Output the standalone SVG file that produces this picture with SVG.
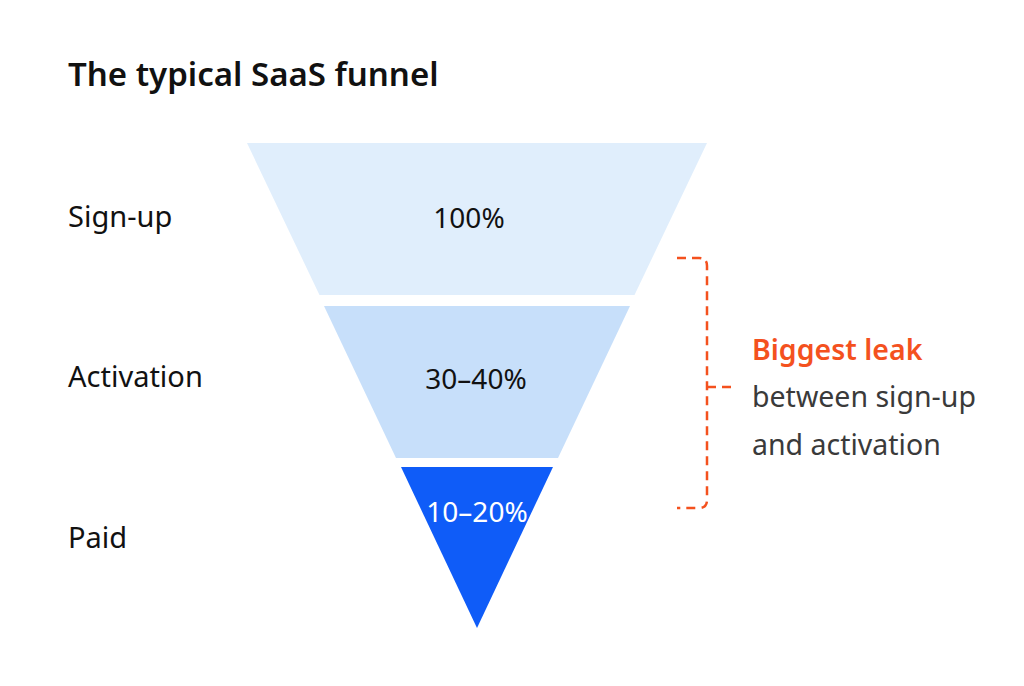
<svg xmlns="http://www.w3.org/2000/svg" width="1024" height="686" viewBox="0 0 1024 686">
<style>
.lbl{font-family:"Noto Sans","Open Sans","Liberation Sans",sans-serif;font-size:29px;fill:#111}
.pct{font-family:"Noto Sans","Open Sans","Liberation Sans",sans-serif;font-size:28px;fill:#111;text-anchor:middle}
.title{font-family:"Noto Sans","Open Sans","Liberation Sans",sans-serif;font-size:33px;font-weight:600;fill:#111}
.note{font-family:"Noto Sans","Open Sans","Liberation Sans",sans-serif;font-size:28.5px;fill:#3a3a3a}
.bracket{fill:none;stroke:#f4511e;stroke-width:2.5;stroke-dasharray:9 6}
</style>
<rect width="1024" height="686" fill="#ffffff"/>
<text class="title" x="68" y="86">The typical SaaS funnel</text>
<g id="stage-signup">
<polygon points="247,143 707,143 634.5,295 319.5,295" fill="#e0eefc"/>
<text class="lbl" x="68" y="227">Sign-up</text>
<text class="pct" x="469" y="228">100%</text>
</g>
<g id="stage-activation">
<polygon points="324,306 630,306 558,458 396,458" fill="#c7dffa"/>
<text class="lbl" x="68" y="387">Activation</text>
<text class="pct" x="476" y="389">30–40%</text>
</g>
<g id="stage-paid">
<polygon points="401,467 553,467 477,628" fill="#0f5cf8"/>
<text class="lbl" x="68" y="548">Paid</text>
<text class="pct" x="477" y="522" style="fill:#ffffff">10–20%</text>
</g>
<g id="connectors">
<path class="bracket" d="M677,258 H699 Q707,258 707,266 V500 Q707,508 699,508 H677"/>
<path class="bracket" d="M707,387 H732" stroke-dasharray="6 6"/>
</g>
<g id="annotation">
<text class="note" x="752" y="360" style="fill:#f4511e;font-weight:600">Biggest leak</text>
<text class="note" x="752" y="407">between sign-up</text>
<text class="note" x="752" y="455">and activation</text>
</g>
</svg>
